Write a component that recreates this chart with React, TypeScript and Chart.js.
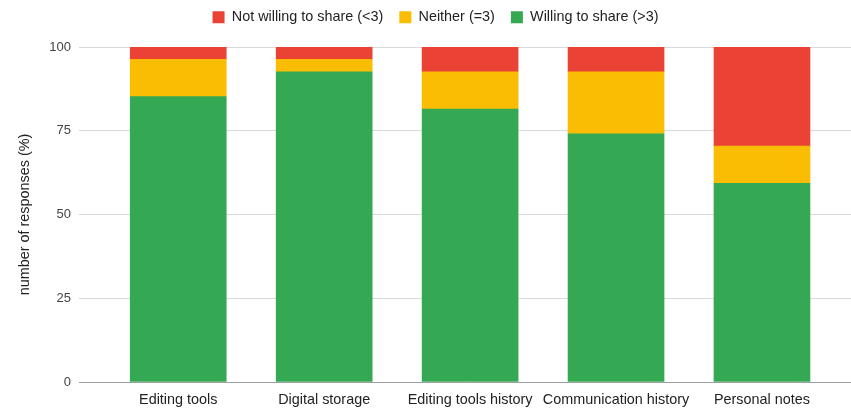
import React, { useEffect, useRef } from "react";
import { Chart, registerables } from "chart.js";

Chart.register(...registerables);

const categories = [
  "Editing tools",
  "Digital storage",
  "Editing tools history",
  "Communication history",
  "Personal notes",
];
const willingToShare = [85.2, 92.6, 81.5, 74.1, 59.3];
const neither = [11.1, 3.7, 11.1, 18.5, 11.1];
const notWilling = [3.7, 3.7, 7.4, 7.4, 29.6];
const yTicks = [0, 25, 50, 75, 100];

const seriesLabels = {
  not: "Not willing to share (<3)",
  neither: "Neither (=3)",
  willing: "Willing to share (>3)",
};
const colors = { not: "#EA4335", neither: "#FBBC04", willing: "#34A853" };

const FONT = "'Liberation Sans', Arial, sans-serif";
const TEXT_SIZE = 14.4;

const legendShift = {
  id: "legendShift",
  afterLayout(chart: any) {
    if (chart.legend) {
      chart.legend.left = 20;
    }
  },
};

export default function App() {
  const ref = useRef<HTMLCanvasElement | null>(null);

  useEffect(() => {
    document.body.style.margin = "0";
    const canvas = ref.current;
    if (!canvas) return;
    const toPoints = (arr: number[]) => arr.map((y, i) => ({ x: i, y }));
    const chart = new Chart(canvas, {
      type: "bar",
      data: {
        datasets: [
          {
            label: seriesLabels.willing,
            data: toPoints(willingToShare),
            backgroundColor: colors.willing,
            borderWidth: 0,
            barThickness: 96,
          },
          {
            label: seriesLabels.neither,
            data: toPoints(neither),
            backgroundColor: colors.neither,
            borderWidth: 0,
            barThickness: 96,
          },
          {
            label: seriesLabels.not,
            data: toPoints(notWilling),
            backgroundColor: colors.not,
            borderWidth: 0,
            barThickness: 96,
          },
        ],
      },
      plugins: [legendShift],
      options: {
        animation: false,
        responsive: false,
        maintainAspectRatio: false,
        layout: { padding: { top: -6, bottom: 2, left: 0, right: 0 } },
        plugins: {
          tooltip: { enabled: false },
          legend: {
            display: true,
            position: "top",
            reverse: true,
            labels: {
              boxWidth: 12,
              boxHeight: 12,
              padding: 16,
              color: "#222",
              font: { family: FONT, size: TEXT_SIZE },
            },
          },
          title: {
            display: true,
            text: "",
            weight: 500,
            padding: 0,
            font: { size: 12.6, lineHeight: 1 },
          },
        },
        scales: {
          x: {
            type: "linear",
            stacked: true,
            offset: false,
            min: -0.68,
            max: 4.61,
            grid: { display: false, drawTicks: false, offset: false },
            border: { display: true, color: "#9e9e9e", width: 1 },
            afterBuildTicks: (scale: any) => {
              scale.ticks = categories.map((_, i) => ({ value: i }));
            },
            afterFit: (scale: any) => {
              scale.height = 26;
            },
            ticks: {
              autoSkip: false,
              maxRotation: 0,
              padding: 9,
              color: "#222",
              font: { family: FONT, size: TEXT_SIZE },
              callback: (v: any) => categories[v as number] ?? "",
            },
          },
          y: {
            type: "linear",
            stacked: true,
            min: 0,
            max: 100,
            afterBuildTicks: (scale: any) => {
              scale.ticks = yTicks.map((value) => ({ value }));
            },
            afterFit: (scale: any) => {
              scale.width = 79;
            },
            grid: { color: "#d9d9d9", drawTicks: false },
            border: { display: false },
            ticks: {
              padding: 8,
              color: "#444",
              font: { family: FONT, size: 13 },
            },
            title: {
              display: true,
              text: "number of responses (%)",
              color: "#222",
              padding: { top: 16, bottom: 0 },
              font: { family: FONT, size: TEXT_SIZE },
            },
          },
        },
      },
    });
    return () => chart.destroy();
  }, []);

  return (
    <div style={{ width: 851, height: 410 }}>
      <canvas ref={ref} width={851} height={410} />
    </div>
  );
}
